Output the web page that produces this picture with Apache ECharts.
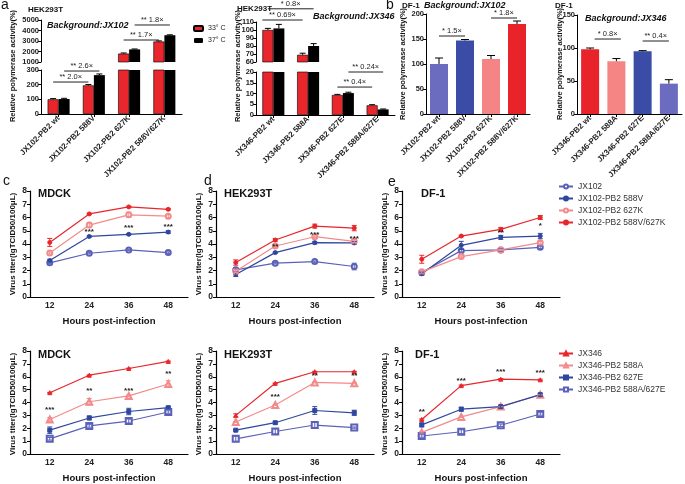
<!DOCTYPE html>
<html><head><meta charset="utf-8">
<script src="https://cdn.jsdelivr.net/npm/echarts@6/dist/echarts.min.js"></script>
<style>html,body{margin:0;padding:0;background:#fff}#c{width:685px;height:484px}</style>
</head><body><div id="c"></div>
<script>
// ---------------- DATA ----------------
const cats102 = ['JX102-PB2 wt','JX102-PB2 588V','JX102-PB2 627K','JX102-PB2 588V/627K'];
const cats346 = ['JX346-PB2 wt','JX346-PB2 588A','JX346-PB2 627E','JX346-PB2 588A/627E'];
const tempNames = ['33° C','37° C'];
const hek102_33 = [100,195,1800,2950];
const hek102_33Err = [5,6,60,60];
const hek102_37 = [102,265,2200,3550];
const hek102_37Err = [5,8,40,40];
const hek346_33 = [100,69,9.3,4.5];
const hek346_33Err = [2,2,0.3,0.3];
const hek346_37 = [102,80,10.2,2.6];
const hek346_37Err = [5,3,0.4,0.2];
const df102 = [100,147,110,180];
const df102Err = [12,2,7,6];
const df346 = [98,80,95,46];
const df346Err = [2,4,1,6];
// significance brackets: [startCat, startSide, endCat, endSide, yValue, text]
const sigA102Low = [[0,-1,1,-1,218,'** 2.0×'],[0,1,1,1,293,'** 2.6×']];
const sigA102Up = [[2,-1,3,-1,3095,'** 1.7×'],[2,1,3,1,4524,'** 1.8×']];
const sigA346Up = [[0,-2,1,-1,112.5,'** 0.69×'],[0,-1,1,1,126.5,'* 0.8×']];
const sigA346Low = [[2,-1,3,-1,13,'** 0.4×'],[2,1,3,1,20,'** 0.24×']];
const sigB102 = [[0,0,1,0,156,'* 1.5×'],[2,0,3,0,192,'* 1.8×']];
const sigB346 = [[0,0.5,1,0.5,113.6,'* 0.8×'],[2,0,3,0,110.6,'** 0.4×']];

const hours = ['12','24','36','48'];
const namesTop = ['JX102','JX102-PB2 588V','JX102-PB2 627K','JX102-PB2 588V/627K'];
const namesBottom = ['JX346','JX346-PB2 588A','JX346-PB2 627E','JX346-PB2 588A/627E'];
// MDCK top
const mdckJX102 = [2.58,3.3,3.55,3.35];       const mdckJX102Err = [0.06,0.05,0.05,0.06];
const mdck588V = [2.75,4.57,4.73,4.9];        const mdck588VErr = [0.1,0.05,0.05,0.1];
const mdck627K = [3.32,5.43,6.2,6.1];         const mdck627KErr = [0.08,0.2,0.2,0.12];
const mdck588V627K = [4.12,6.27,6.8,6.62];    const mdck588V627KErr = [0.3,0.05,0.05,0.05];
// HEK293T top
const hekJX102 = [2.05,2.55,2.67,2.3];        const hekJX102Err = [0.15,0.05,0.05,0.25];
const hek588V = [1.7,3.35,4.1,4.08];          const hek588VErr = [0.15,0.05,0.1,0.1];
const hek627K = [1.95,3.85,4.55,4.2];         const hek627KErr = [0.1,0.1,0.05,0.1];
const hek588V627K = [2.6,4.3,5.35,5.2];       const hek588V627KErr = [0.2,0.1,0.15,0.2];
// DF-1 top
const dfJX102 = [1.85,3.5,3.55,3.75];         const dfJX102Err = [0.1,0.1,0.1,0.1];
const df588V = [1.75,3.9,4.5,4.6];            const df588VErr = [0.1,0.3,0.15,0.2];
const df627K = [1.9,3.05,3.55,4.1];           const df627KErr = [0.1,0.05,0.05,0.1];
const df588V627K = [2.85,4.6,5.1,6.0];        const df588V627KErr = [0.3,0.05,0.15,0.15];
// MDCK bottom
const mdckJX346 = [4.76,6.12,6.64,7.19];      const mdckJX346Err = [0.03,0.03,0.03,0.03];
const mdck588A = [2.68,4.06,4.51,5.44];       const mdck588AErr = [0.15,0.25,0.08,0.25];
const mdck627E = [1.85,2.8,3.3,3.6];          const mdck627EErr = [0.25,0.15,0.25,0.08];
const mdck588A627E = [1.18,2.18,2.56,3.26];   const mdck588A627EErr = [0.1,0.1,0.15,0.1];
// HEK293T bottom
const hekJX346 = [3.0,5.49,6.39,6.39];        const hekJX346Err = [0.12,0.03,0.03,0.03];
const hek588A = [2.48,3.81,5.56,5.49];        const hek588AErr = [0.04,0.04,0.04,0.04];
const hek627E = [1.85,2.43,3.38,3.2];         const hek627EErr = [0.05,0.1,0.3,0.2];
const hek588A627E = [1.18,1.75,2.25,2.05];    const hek588A627EErr = [0.2,0.2,0.25,0.05];
// DF-1 bottom
const dfJX346 = [2.68,5.31,5.81,5.76];        const dfJX346Err = [0.05,0.05,0.05,0.05];
const df588A = [1.68,2.88,3.68,4.6];          const df588AErr = [0.05,0.05,0.05,0.05];
const df627E = [2.26,3.48,3.68,4.61];         const df627EErr = [0.15,0.15,0.1,0.1];
const df588A627E = [1.4,1.73,2.23,3.11];      const df588A627EErr = [0.1,0.15,0.1,0.1];
// asterisks: [catIndex, yValue, text]
const starMdckTop = [[1,4.95,'***'],[2,5.2,'***'],[3,5.3,'***']];
const starHekTop = [[1,3.76,'**'],[2,4.66,'***'],[3,4.36,'***']];
const starDfTop = [[2,4.85,'**'],[3,5.4,'*']];
const starMdckBot = [[0,3.4,'***'],[1,4.9,'**'],[2,4.9,'***'],[3,6.26,'**']];
const starHekBot = [[1,4.45,'***'],[2,6.04,'**'],[3,6.04,'**']];
const starDfBot = [[0,3.25,'**'],[1,5.66,'***'],[2,6.41,'***'],[3,6.34,'***']];

// ---------------- STYLE ----------------
const FONT = '"Liberation Sans", Arial, sans-serif';
const RED = '#e8262b', PINK = '#f28b8b', BLUE = '#2f479e', SLATE = '#5b61b8';
const grids = [], xAxes = [], yAxes = [], series = [], graphics = [];

function addGrid(left, top, width, height) {
  grids.push({left, top, width, height, containLabel: false});
  return grids.length - 1;
}
function catX(gi, cats, show, rotate, fs) {
  xAxes.push({gridIndex: gi, type: 'category', data: cats, show: show, boundaryGap: true,
    axisLine: {show: true, lineStyle: {color: '#000', width: 1}},
    axisTick: {show: true, alignWithLabel: true, length: 3, lineStyle: {color: '#000'}},
    axisLabel: {rotate: rotate, interval: 0, fontSize: fs, fontWeight: 'bold', color: '#222', fontFamily: FONT, margin: 3}});
  return xAxes.length - 1;
}
function valY(gi, min, max, interval, fs) {
  yAxes.push({gridIndex: gi, type: 'value', min, max, interval,
    splitLine: {show: false},
    axisLine: {show: true, lineStyle: {color: '#000', width: 1}},
    axisTick: {show: true, length: 3, lineStyle: {color: '#000'}},
    axisLabel: {fontSize: fs, fontWeight: 'bold', color: '#222', fontFamily: FONT, margin: 2,
      formatter: v => String(v)}});
  return yAxes.length - 1;
}
function errSeries(ai, values, errs, color, offset, cap, range, both) {
  series.push({type: 'custom', xAxisIndex: ai, yAxisIndex: ai, clip: false, z: 5,
    data: values.map((v, i) => [i, v, errs[i]]),
    renderItem: function (params, api) {
      const i = api.value(0), v = api.value(1), e = api.value(2);
      if (v > range[1] || v < range[0]) return null;
      const mid = api.coord([i, v]);
      const top = api.coord([i, Math.min(v + e, range[1])]);
      const bot = api.coord([i, Math.max(v - e, range[0])]);
      const x = mid[0] + offset;
      const st = {stroke: color, lineWidth: 1};
      const ch = [
        {type: 'line', shape: {x1: x, y1: both ? bot[1] : mid[1], x2: x, y2: top[1]}, style: st},
        {type: 'line', shape: {x1: x - cap, y1: top[1], x2: x + cap, y2: top[1]}, style: st}
      ];
      if (both) ch.push({type: 'line', shape: {x1: x - cap, y1: bot[1], x2: x + cap, y2: bot[1]}, style: st});
      return {type: 'group', children: ch};
    }});
}
function sigSeries(ai, arr, half) {
  series.push({type: 'custom', xAxisIndex: ai, yAxisIndex: ai, clip: false, z: 6,
    data: arr.map(d => [d[0], d[4]]),
    renderItem: function (params, api) {
      const d = arr[params.dataIndex];
      const p1 = api.coord([d[0], d[4]]), p2 = api.coord([d[2], d[4]]);
      const x1 = p1[0] + d[1] * half, x2 = p2[0] + d[3] * half;
      return {type: 'group', children: [
        {type: 'line', shape: {x1: x1, y1: p1[1], x2: x2, y2: p1[1]}, style: {stroke: '#222', lineWidth: 1}},
        {type: 'text', x: (x1 + x2) / 2, y: p1[1] - 1,
          style: {text: d[5], align: 'center', verticalAlign: 'bottom', textAlign: 'center', textVerticalAlign: 'bottom',
            font: '7.5px ' + FONT, fill: '#222'}}
      ]};
    }});
}
function starSeries(ai, arr) {
  series.push({type: 'custom', xAxisIndex: ai, yAxisIndex: ai, clip: false, z: 6,
    data: arr.map(d => [d[0], d[1]]),
    renderItem: function (params, api) {
      const d = arr[params.dataIndex];
      const p = api.coord([d[0], d[1]]);
      return {type: 'text', x: p[0], y: p[1],
        style: {text: d[2], align: 'center', verticalAlign: 'middle', textAlign: 'center', textVerticalAlign: 'middle',
          font: 'bold 8px ' + FONT, fill: '#222'}};
    }});
}
function text(x, y, t, font, opts) {
  graphics.push(Object.assign({type: 'text', x, y, silent: true,
    style: {text: t, font: font, fill: '#111', align: 'left', verticalAlign: 'middle', textAlign: 'left', textVerticalAlign: 'middle'}}, opts || {}));
}
function vText(x, y, t, font) {
  graphics.push({type: 'text', x, y, rotation: Math.PI / 2, silent: true,
    style: {text: t, font: font, fill: '#111', align: 'center', verticalAlign: 'middle', textAlign: 'center', textVerticalAlign: 'middle'}});
}

// ---------------- PANEL a (broken axes) ----------------
function groupedBroken(leftX, width, upTop, upH, upMin, upMax, upInt, lowTop, lowH, lowMax, lowInt, cats, d33, e33, d37, e37, sigUp, sigLow) {
  const gU = addGrid(leftX, upTop, width, upH);
  catX(gU, cats, false, 45, 8);
  valY(gU, upMin, upMax, upInt, 7.5);
  const gL = addGrid(leftX, lowTop, width, lowH);
  catX(gL, cats, true, 45, 8);
  valY(gL, 0, lowMax, lowInt, 7.5);
  [[gU, [upMin, upMax]], [gL, [0, lowMax]]].forEach(([g, r]) => {
    series.push({type: 'bar', name: tempNames[0], xAxisIndex: g, yAxisIndex: g, data: d33, barWidth: 11, barGap: '0%', clip: true,
      itemStyle: {color: RED, borderColor: '#000', borderWidth: 0.6}});
    series.push({type: 'bar', name: tempNames[1], xAxisIndex: g, yAxisIndex: g, data: d37, barWidth: 11, barGap: '0%', clip: true,
      itemStyle: {color: '#000'}});
    errSeries(g, d33, e33, '#000', -5.5, 3, r, false);
    errSeries(g, d37, e37, '#000', 5.5, 3, r, false);
  });
  sigSeries(gU, sigUp, 5.5);
  sigSeries(gL, sigLow, 5.5);
}
groupedBroken(41, 141, 20, 42, 1000, 5000, 1000, 70, 44, 300, 100, cats102, hek102_33, hek102_33Err, hek102_37, hek102_37Err, sigA102Up, sigA102Low);
groupedBroken(256, 139, 22, 40, 60, 110, 10, 72, 43, 20, 5, cats346, hek346_33, hek346_33Err, hek346_37, hek346_37Err, sigA346Up, sigA346Low);

// ---------------- PANEL b ----------------
function singleBar(leftX, top, width, height, max, interval, cats, vals, errs, colors, sig) {
  const g = addGrid(leftX, top, width, height);
  catX(g, cats, true, 45, 8);
  valY(g, 0, max, interval, 7.5);
  series.push({type: 'bar', xAxisIndex: g, yAxisIndex: g, barWidth: 18,
    data: vals.map((v, i) => ({value: v, itemStyle: {color: colors[i]}}))});
  errSeries(g, vals, errs, '#000', 0, 4, [0, max], false);
  sigSeries(g, sig, 9);
}
singleBar(426, 14, 104, 100, 200, 50, cats102, df102, df102Err, ['#6b6cc0', '#3a4ca5', '#f58585', '#e8232a'], sigB102);
singleBar(577, 15, 105, 99, 150, 50, cats346, df346, df346Err, ['#e8232a', '#f58585', '#3a4ca5', '#6b6cc0'], sigB346);

// ---------------- LINE PANELS ----------------
function lineChart(leftX, top, names, sets, stars) {
  const g = addGrid(leftX, top, 158, 106);
  xAxes.push({gridIndex: g, type: 'category', data: hours, boundaryGap: true,
    axisLine: {lineStyle: {color: '#000', width: 1.2}},
    axisTick: {alignWithLabel: true, length: 3, lineStyle: {color: '#000'}},
    axisLabel: {fontSize: 8.5, fontWeight: 'bold', color: '#222', fontFamily: FONT, margin: 4},
    name: 'Hours post-infection', nameLocation: 'middle', nameGap: 19,
    nameTextStyle: {fontSize: 9.5, fontWeight: 'bold', color: '#111', fontFamily: FONT}});
  yAxes.push({gridIndex: g, type: 'value', min: 0, max: 8, interval: 1, splitLine: {show: false},
    axisLine: {show: true, lineStyle: {color: '#000', width: 1.2}},
    axisTick: {show: true, length: 3, lineStyle: {color: '#000'}},
    axisLabel: {fontSize: 8.5, fontWeight: 'bold', color: '#222', fontFamily: FONT, margin: 3}});
  sets.forEach((s, k) => {
    series.push({type: 'line', name: names[k], xAxisIndex: g, yAxisIndex: g, data: s.v,
      symbol: s.sym, symbolSize: s.size, showSymbol: true, z: 3,
      lineStyle: {color: s.c, width: 1.2}, itemStyle: {color: s.c, borderColor: s.c, borderWidth: 1}});
    errSeries(g, s.v, s.e, s.c, 0, 2.5, [0, 8], true);
  });
  starSeries(g, stars);
  return g;
}
function topSets(a, ae, b, be, c, ce, d, de) {
  return [
    {v: a, e: ae, c: SLATE, sym: 'emptyCircle', size: 5},
    {v: b, e: be, c: BLUE, sym: 'circle', size: 4},
    {v: c, e: ce, c: PINK, sym: 'emptyCircle', size: 5},
    {v: d, e: de, c: RED, sym: 'circle', size: 4}];
}
function botSets(a, ae, b, be, c, ce, d, de) {
  return [
    {v: a, e: ae, c: RED, sym: 'triangle', size: 4},
    {v: b, e: be, c: PINK, sym: 'emptyTriangle', size: 6},
    {v: c, e: ce, c: BLUE, sym: 'rect', size: 4},
    {v: d, e: de, c: SLATE, sym: 'emptyRect', size: 6}];
}
lineChart(30, 191, namesTop, topSets(mdckJX102, mdckJX102Err, mdck588V, mdck588VErr, mdck627K, mdck627KErr, mdck588V627K, mdck588V627KErr), starMdckTop);
lineChart(216, 191, namesTop, topSets(hekJX102, hekJX102Err, hek588V, hek588VErr, hek627K, hek627KErr, hek588V627K, hek588V627KErr), starHekTop);
lineChart(402, 191, namesTop, topSets(dfJX102, dfJX102Err, df588V, df588VErr, df627K, df627KErr, df588V627K, df588V627KErr), starDfTop);
lineChart(30, 351, namesBottom, botSets(mdckJX346, mdckJX346Err, mdck588A, mdck588AErr, mdck627E, mdck627EErr, mdck588A627E, mdck588A627EErr), starMdckBot);
lineChart(216, 351, namesBottom, botSets(hekJX346, hekJX346Err, hek588A, hek588AErr, hek627E, hek627EErr, hek588A627E, hek588A627EErr), starHekBot);
lineChart(402, 351, namesBottom, botSets(dfJX346, dfJX346Err, df588A, df588AErr, df627E, df627EErr, df588A627E, df588A627EErr), starDfBot);

// ---------------- TEXT ----------------
const LET = '14px ' + FONT;
text(1, 5, 'a', LET); text(386, 5, 'b', LET); text(3, 181, 'c', LET); text(204, 181, 'd', LET); text(388, 182, 'e', LET);
const T8 = 'bold 8px ' + FONT;
text(28, 10, 'HEK293T', T8);
text(237, 9, 'HEK293T', T8);
text(402, 6, 'DF-1', T8);
text(555, 6, 'DF-1', T8);
const BG = 'italic bold 9px ' + FONT;
text(47, 26, 'Background:JX102', BG);
text(313, 17, 'Background:JX346', BG);
text(424, 6, 'Background:JX102', BG);
text(585, 19, 'Background:JX346', BG);
const YN = 'bold 7.5px ' + FONT;
vText(13, 66, 'Relative polymerase activity(%)', YN);
vText(238, 66, 'Relative polymerase activity(%)', YN);
vText(403, 64, 'Relative polymerase activity(%)', YN);
vText(560, 64, 'Relative polymerase activity(%)', YN);
const YL = 'bold 8px ' + FONT;
[[13, 244], [199, 244], [385, 244], [13, 404], [199, 404], [385, 404]].forEach(p => vText(p[0], p[1], 'Virus titer(lgTCID50/100μL)', YL));
const TT = 'bold 11px ' + FONT;
text(38, 194, 'MDCK', TT); text(224, 194, 'HEK293T', TT); text(421, 194, 'DF-1', TT);
text(38, 355, 'MDCK', TT); text(224, 355, 'HEK293T', TT); text(415, 355, 'DF-1', TT);

const chart = echarts.init(document.getElementById('c'));
chart.setOption({
  backgroundColor: '#fff',
  animation: false,
  textStyle: {fontFamily: FONT},
  grid: grids, xAxis: xAxes, yAxis: yAxes, series: series,
  legend: [
    {data: tempNames, left: 188, top: 20, orient: 'vertical', itemWidth: 9, itemHeight: 5, itemGap: 5,
      selectedMode: false, textStyle: {fontSize: 7, color: '#222'}},
    {data: namesTop, left: 553, top: 177, orient: 'vertical', itemWidth: 14, itemHeight: 5, itemGap: 3,
      selectedMode: false, textStyle: {fontSize: 8.5, color: '#333'}},
    {data: namesBottom, left: 553, top: 344, orient: 'vertical', itemWidth: 14, itemHeight: 5, itemGap: 3,
      selectedMode: false, textStyle: {fontSize: 8.5, color: '#333'}}
  ],
  graphic: graphics
});
</script>
</body></html>
